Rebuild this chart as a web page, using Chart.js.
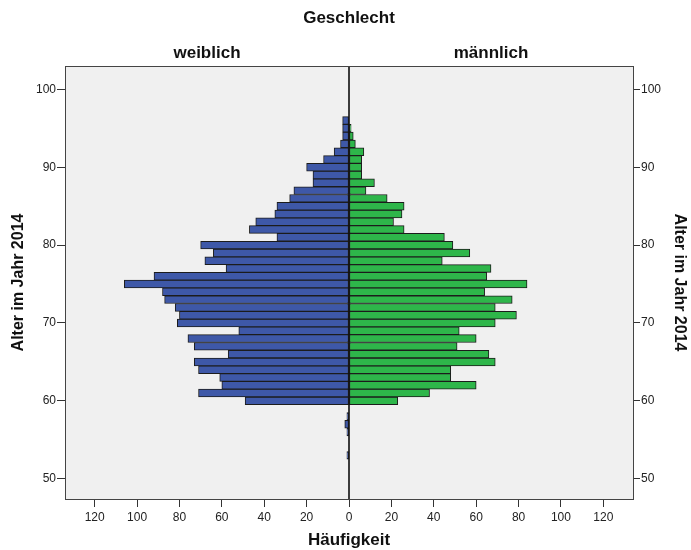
<!DOCTYPE html>
<html>
<head>
<meta charset="utf-8">
<script src="https://cdn.jsdelivr.net/npm/chart.js@4.4.0/dist/chart.umd.min.js"></script>
<style>
    html, body { margin: 0; padding: 0; background: #ffffff; }
    #wrap { width: 691px; height: 550px; }
</style>
</head>
<body>
<div id="wrap"><canvas id="pyramidChart" width="691" height="550"></canvas></div>
<script>
// Alter (Jahre) und Häufigkeiten je Geschlecht
const ages = [53, 54, 55, 56, 57, 58, 59, 60, 61, 62, 63, 64, 65, 66, 67, 68, 69, 70, 71, 72, 73, 74,
    75, 76, 77, 78, 79, 80, 81, 82, 83, 84, 85, 86, 87, 88, 89, 90, 91, 92, 93, 94, 95, 96];
const femaleCounts = [1, 0, 0, 1, 2, 1, 0, 49, 71, 60, 61, 71, 73, 57, 73, 76, 52, 81, 80, 82, 87, 88,
    106, 92, 58, 68, 64, 70, 34, 47, 44, 35, 34, 28, 26, 17, 17, 20, 12, 7, 4, 3, 3, 3];
const maleCounts = [0, 0, 0, 0, 0, 0, 0, 23, 38, 60, 48, 48, 69, 66, 51, 60, 52, 69, 79, 69, 77, 64,
    84, 65, 67, 44, 57, 49, 45, 26, 21, 25, 26, 18, 8, 12, 6, 6, 6, 7, 3, 2, 1, 0];

const xTicks = [-120, -100, -80, -60, -40, -20, 0, 20, 40, 60, 80, 100, 120];
const yTicks = [50, 60, 70, 80, 90, 100];
const sexLabels = ['weiblich', 'männlich'];

const FONT = "'Liberation Sans', Arial, sans-serif";

function buildPoints(counts, sign) {
    const points = [];
    ages.forEach((age, i) => {
        if (counts[i] > 0) points.push({ x: sign * counts[i], y: age });
    });
    return points;
}

const panelPlugin = {
    id: 'panelPlugin',
    beforeDraw(chart) {
        const { ctx, chartArea: a } = chart;
        ctx.save();
        ctx.fillStyle = '#f0f0f0';
        ctx.fillRect(a.left, a.top, a.right - a.left, a.bottom - a.top);
        ctx.restore();
    },
    afterDatasetsDraw(chart) {
        const { ctx, chartArea: a, scales } = chart;
        const x0 = scales.x.getPixelForValue(0);
        ctx.save();
        ctx.strokeStyle = '#000000';
        ctx.lineWidth = 1.5;
        ctx.beginPath();
        ctx.moveTo(x0, a.top);
        ctx.lineTo(x0, a.bottom);
        ctx.stroke();
        ctx.lineWidth = 1;
        ctx.strokeStyle = '#444444';
        ctx.strokeRect(Math.round(a.left) + 0.5, Math.round(a.top) + 0.5,
            Math.round(a.right - a.left), Math.round(a.bottom - a.top));
        ctx.restore();
    },
    afterDraw(chart) {
        const { ctx, chartArea: a, scales } = chart;
        const x0 = scales.x.getPixelForValue(0);
        ctx.save();
        ctx.fillStyle = '#111111';
        ctx.textAlign = 'center';
        ctx.textBaseline = 'alphabetic';
        ctx.font = 'bold 17px ' + FONT;
        ctx.fillText('Geschlecht', x0, 23);
        ctx.fillText(sexLabels[0], (a.left + x0) / 2, 58);
        ctx.fillText(sexLabels[1], (x0 + a.right) / 2, 58);
        ctx.restore();
    }
};

const tickFont = { family: FONT, size: 12 };
const titleFont = { family: FONT, size: 16, weight: 'bold' };

const ctx = document.getElementById('pyramidChart').getContext('2d');
new Chart(ctx, {
    type: 'bar',
    data: {
        datasets: [{
            label: sexLabels[0],
            data: buildPoints(femaleCounts, -1),
            backgroundColor: '#3e58a8',
            borderColor: '#1c1c1c',
            borderWidth: 1,
            borderSkipped: false,
            grouped: false,
            barPercentage: 1,
            categoryPercentage: 1
        }, {
            label: sexLabels[1],
            data: buildPoints(maleCounts, 1),
            backgroundColor: '#2eb64a',
            borderColor: '#1c1c1c',
            borderWidth: 1,
            borderSkipped: false,
            grouped: false,
            barPercentage: 1,
            categoryPercentage: 1
        }]
    },
    options: {
        indexAxis: 'y',
        responsive: false,
        animation: false,
        layout: { padding: { top: 66, left: 0, right: 0, bottom: 0 } },
        plugins: {
            legend: { display: false },
            tooltip: { enabled: false }
        },
        scales: {
            x: {
                type: 'linear',
                min: -134,
                max: 134,
                afterBuildTicks: scale => { scale.ticks = xTicks.map(v => ({ value: v })); },
                afterFit: scale => { scale.height = 51; },
                grid: { drawOnChartArea: false, tickLength: 8, tickColor: '#333333' },
                border: { display: false },
                ticks: {
                    callback: v => Math.abs(v),
                    color: '#222222',
                    font: tickFont,
                    padding: 3,
                    maxRotation: 0
                },
                title: {
                    display: true,
                    text: 'Häufigkeit',
                    color: '#111111',
                    font: { family: FONT, size: 17, weight: 'bold', lineHeight: 1.1 },
                    padding: { top: 0, bottom: 0 }
                }
            },
            y: {
                type: 'linear',
                position: 'left',
                min: 47.4,
                max: 103,
                offset: false,
                afterBuildTicks: scale => { scale.ticks = yTicks.map(v => ({ value: v })); },
                afterFit: scale => { scale.width = 65; },
                grid: { offset: false, drawOnChartArea: false, tickLength: 8, tickColor: '#333333' },
                border: { display: false },
                ticks: { color: '#222222', font: tickFont, padding: 1 },
                title: {
                    display: true,
                    text: 'Alter im Jahr 2014',
                    color: '#111111',
                    font: titleFont,
                    padding: { top: 9, bottom: 0 }
                }
            },
            y2: {
                type: 'linear',
                position: 'right',
                min: 47.4,
                max: 103,
                offset: false,
                afterBuildTicks: scale => { scale.ticks = yTicks.map(v => ({ value: v })); },
                afterFit: scale => { scale.width = 58; },
                grid: { offset: false, drawOnChartArea: false, tickLength: 7, tickColor: '#333333' },
                border: { display: false },
                ticks: { color: '#222222', font: tickFont, padding: 1 },
                title: {
                    display: true,
                    text: 'Alter im Jahr 2014',
                    color: '#111111',
                    font: titleFont,
                    padding: { top: 2, bottom: 0 }
                }
            }
        }
    },
    plugins: [panelPlugin]
});
</script>
</body>
</html>
